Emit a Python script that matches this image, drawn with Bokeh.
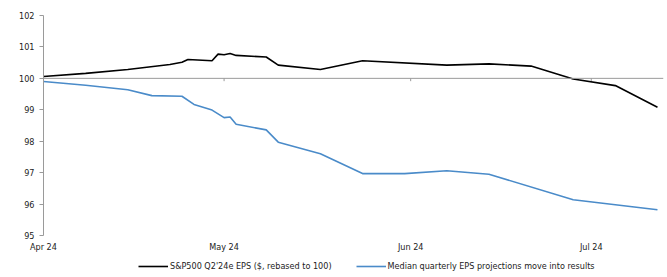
import pandas as pd
from bokeh.plotting import figure
from bokeh.layouts import column
from bokeh.models import (FixedTicker, DatetimeTickFormatter, Range1d, Legend, LegendItem, Span)
from bokeh.embed import file_html
from bokeh.resources import INLINE

# ---- data ----
month_ticks = ["2024-04-01", "2024-05-01", "2024-06-01", "2024-07-01"]
y_ticks = [95, 96, 97, 98, 99, 100, 101, 102]

sp_dates = ["2024-04-01", "2024-04-08", "2024-04-15", "2024-04-22", "2024-04-24", "2024-04-25",
            "2024-04-29", "2024-04-30", "2024-05-01", "2024-05-02", "2024-05-03", "2024-05-08",
            "2024-05-10", "2024-05-17", "2024-05-24", "2024-06-07", "2024-06-14", "2024-06-21",
            "2024-06-28", "2024-07-05", "2024-07-12"]
sp_values = [100.06, 100.16, 100.28, 100.44, 100.51, 100.60,
             100.56, 100.77, 100.75, 100.79, 100.73, 100.68,
             100.42, 100.28, 100.56, 100.42, 100.46, 100.39,
             99.98, 99.77, 99.08]

med_dates = ["2024-04-01", "2024-04-08", "2024-04-15", "2024-04-19", "2024-04-24", "2024-04-26",
             "2024-04-29", "2024-05-01", "2024-05-02", "2024-05-03", "2024-05-08", "2024-05-10",
             "2024-05-17", "2024-05-24", "2024-05-31", "2024-06-07", "2024-06-14", "2024-06-28",
             "2024-07-12"]
med_values = [99.90, 99.78, 99.64, 99.45, 99.43, 99.17,
              98.99, 98.75, 98.77, 98.54, 98.36, 97.97,
              97.60, 96.97, 96.97, 97.06, 96.95, 96.14,
              95.82]

sp_label = "S&P500 Q2'24e EPS ($, rebased to 100)"
med_label = "Median quarterly EPS projections move into results"

FONT = "Liberation Sans Narrow, Arial Narrow, DejaVu Sans Condensed, Liberation Sans, sans-serif"
TXT = "#222222"
BLACK = "#000000"
BLUE = "#4a8bc9"

sp_x = pd.to_datetime(sp_dates)
med_x = pd.to_datetime(med_dates)
tick_x = pd.to_datetime(month_ticks)

x_start = pd.Timestamp("2024-04-01")
x_end = pd.Timestamp("2024-07-13")

p = figure(width=667, height=254, x_axis_type="datetime", output_backend="svg",
           toolbar_location=None, x_range=Range1d(x_start, x_end), y_range=Range1d(95, 102),
           min_border_left=43, min_border_right=4, min_border_top=15, min_border_bottom=16)
p.outline_line_color = None
p.xgrid.visible = False
p.ygrid.visible = False
p.background_fill_color = "white"
p.border_fill_color = "white"

# baseline at 100
p.add_layout(Span(location=100, dimension="width", line_color="#9a9a9a", line_width=1))
# small month ticks on the baseline
p.segment(x0=tick_x, y0=[100] * len(tick_x), x1=tick_x, y1=[99.91] * len(tick_x),
          line_color="#9a9a9a", line_width=1)

p.line(sp_x, sp_values, line_color=BLACK, line_width=1.6)
p.line(med_x, med_values, line_color=BLUE, line_width=1.6)

# axes
p.xaxis.ticker = FixedTicker(ticks=[t.value / 1e6 for t in tick_x])
fmt = "%b %y"
p.xaxis.formatter = DatetimeTickFormatter(milliseconds=fmt, seconds=fmt, minsec=fmt, minutes=fmt,
                                          hourmin=fmt, hours=fmt, days=fmt, months=fmt, years=fmt)
p.xaxis.axis_line_color = None
p.xaxis.major_tick_line_color = None
p.xaxis.minor_tick_line_color = None
p.xaxis.major_tick_out = 0
p.xaxis.major_label_standoff = 6
p.xaxis.major_label_text_font = FONT
p.xaxis.major_label_text_font_size = "9px"
p.xaxis.major_label_text_color = TXT

p.yaxis.ticker = FixedTicker(ticks=y_ticks)
p.yaxis.axis_line_color = "#9a9a9a"
p.yaxis.major_tick_line_color = "#9a9a9a"
p.yaxis.minor_tick_line_color = None
p.yaxis.major_tick_out = 4
p.yaxis.major_tick_in = 0
p.yaxis.major_label_standoff = 5
p.yaxis.major_label_text_font = FONT
p.yaxis.major_label_text_font_size = "9px"
p.yaxis.major_label_text_color = TXT

# legend strip below the chart (same series, out of this strip's view, only for the key)
lg = figure(width=667, height=23, output_backend="svg", toolbar_location=None,
            x_axis_type="datetime",
            x_range=Range1d(pd.Timestamp("2000-01-01"), pd.Timestamp("2000-01-02")),
            y_range=Range1d(0, 1),
            x_axis_location=None, y_axis_location=None,
            min_border_left=0, min_border_right=0, min_border_top=0, min_border_bottom=0)
lg.outline_line_color = None
lg.xgrid.visible = False
lg.ygrid.visible = False
lg_sp = lg.line(sp_x, sp_values, line_color=BLACK, line_width=1.6)
lg_med = lg.line(med_x, med_values, line_color=BLUE, line_width=1.6)
legend = Legend(items=[LegendItem(label=sp_label, renderers=[lg_sp]),
                       LegendItem(label=med_label, renderers=[lg_med])],
                location=(95, 6), orientation="horizontal", spacing=24,
                glyph_width=30, glyph_height=10, label_standoff=2, padding=0, margin=0,
                label_text_font=FONT, label_text_font_size="9px", label_text_color=TXT,
                label_height=10, border_line_color=None, background_fill_alpha=0)
lg.add_layout(legend, "center")

layout = column(p, lg, spacing=0)
open("out.html", "w").write(file_html(layout, INLINE))
